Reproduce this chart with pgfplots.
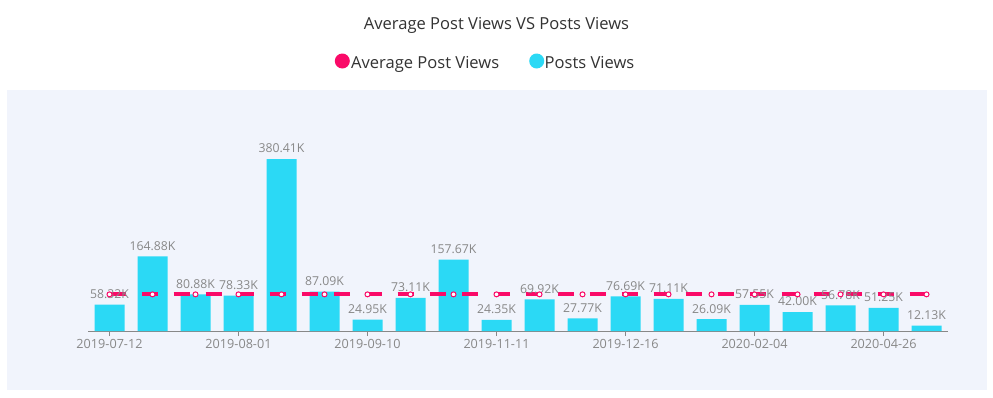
\documentclass[border=0pt]{standalone}
\usepackage{pgfplots}
\pgfplotsset{compat=1.18}
\usepackage{fontspec}
\setmainfont{Open Sans}
\definecolor{barc}{HTML}{2BD9F5}
\definecolor{avgc}{HTML}{FA0A68}
\definecolor{bgc}{HTML}{F1F4FC}
\definecolor{txt}{HTML}{333333}
\definecolor{lab}{HTML}{888888}
\begin{document}
\begin{tikzpicture}[x=1bp,y=1bp]
\fill[white] (0,0) rectangle (993,397);
\fill[bgc] (7,7) rectangle (987,307);
\node[anchor=base, inner sep=0pt, text=txt, font=\fontsize{16.6}{18}\selectfont] at (496.5,367.7) {Average Post Views VS Posts Views};
\fill[avgc] (342.3,336) circle (7.5);
\node[anchor=base west, inner sep=0pt, text=txt, font=\fontsize{16.6}{18}\selectfont] at (351,328.7) {Average Post Views};
\fill[barc] (536.7,336) circle (7.5);
\node[anchor=base west, inner sep=0pt, text=txt, font=\fontsize{16.6}{18}\selectfont] at (544.5,328.7) {Posts Views};
\begin{axis}[
  at={(88bp,66bp)}, anchor=south west, scale only axis,
  width=860bp, height=226bp,
  xmin=-0.5, xmax=19.5, ymin=0, ymax=500,
  axis x line*=bottom, axis y line=none,
  x axis line style={draw=lab, line width=1bp},
  xtick={0,3,6,9,12,15,18},
  xticklabels={2019-07-12,2019-08-01,2019-09-10,2019-11-11,2019-12-16,2020-02-04,2020-04-26},
  xtick pos=bottom, tick align=outside, major tick length=5bp,
  x tick style={draw=lab, line width=1bp},
  ytick=\empty,
  ticklabel style={font=\fontsize{12.7}{14}\selectfont, text=lab},
  /pgf/number format/assume math mode=true,
  clip=false,
]
\addplot[ybar, bar width=30bp, fill=barc, draw=none,
  nodes near coords={\pgfmathprintnumber[fixed,fixed zerofill,precision=2]{\pgfplotspointmeta}K},
  every node near coord/.append style={font=\fontsize{12.3}{14}\selectfont, text=lab, yshift=2.5bp}]
coordinates {(0,58.32) (1,164.88) (2,80.88) (3,78.33) (4,380.41) (5,87.09) (6,24.95) (7,73.11) (8,157.67) (9,24.35) (10,69.92) (11,27.77) (12,76.69) (13,71.11) (14,26.09) (15,57.55) (16,42.00) (17,56.78) (18,51.25) (19,12.13)};
\addplot[avgc, line width=4bp, dash pattern=on 16bp off 16bp, mark=*,
  mark options={solid, fill=white, draw=avgc, line width=1bp}, mark size=2.5bp]
coordinates {(0,81.06) (1,81.06) (2,81.06) (3,81.06) (4,81.06) (5,81.06) (6,81.06) (7,81.06) (8,81.06) (9,81.06) (10,81.06) (11,81.06) (12,81.06) (13,81.06) (14,81.06) (15,81.06) (16,81.06) (17,81.06) (18,81.06) (19,81.06)};
\end{axis}
\end{tikzpicture}
\end{document}
